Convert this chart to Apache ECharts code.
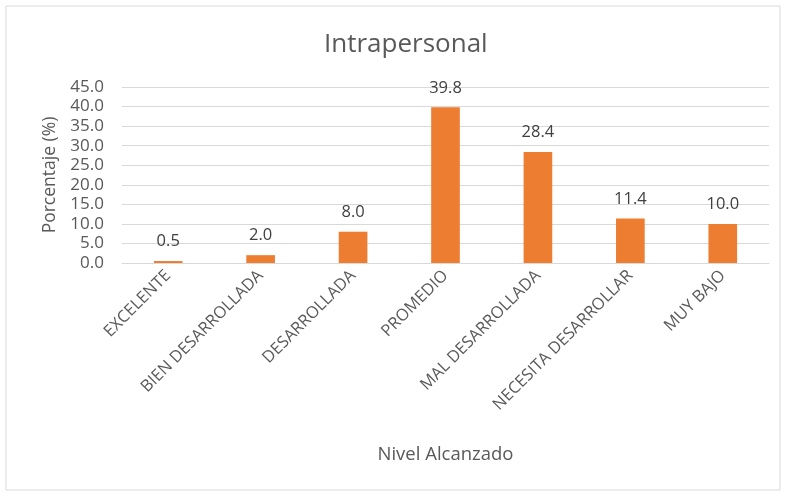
<!DOCTYPE html>
<html>
<head>
<meta charset="utf-8">
<script src="https://cdn.jsdelivr.net/npm/echarts@6/dist/echarts.min.js"></script>
<style>
html,body{margin:0;padding:0;background:#fff;}
#c{width:792px;height:493px;}
</style>
</head>
<body>
<div id="c"></div>
<script>
const categories = ['EXCELENTE','BIEN DESARROLLADA','DESARROLLADA','PROMEDIO','MAL DESARROLLADA','NECESITA DESARROLLAR','MUY BAJO'];
const values = [0.5, 2.0, 8.0, 39.8, 28.4, 11.4, 10.0];
const titleText = 'Intrapersonal';
const xName = 'Nivel Alcanzado';
const yName = 'Porcentaje (%)';

const chart = echarts.init(document.getElementById('c'));
const font = 'Open Sans';
chart.setOption({
  animation: false,
  backgroundColor: '#fff',
  graphic: [{
    type: 'rect', shape: {x: 6, y: 6, width: 774, height: 484},
    style: {fill: 'none', stroke: '#d9d9d9', lineWidth: 1}, silent: true
  }],
  title: {
    text: titleText, left: 319, top: 27,
    textStyle: {fontFamily: font, fontSize: 26, fontWeight: 'normal', color: '#595959'}
  },
  grid: {left: 122, right: 23, top: 87, bottom: 230},
  xAxis: {
    type: 'category', data: categories,
    axisLine: {lineStyle: {color: '#d9d9d9'}},
    axisTick: {show: false},
    axisLabel: {rotate: 45, interval: 0, fontFamily: font, fontSize: 16.5, color: '#595959', margin: 10},
    name: xName, nameLocation: 'middle', nameGap: 182,
    nameTextStyle: {fontFamily: font, fontSize: 18.5, color: '#595959'}
  },
  yAxis: {
    type: 'value', min: 0, max: 45, interval: 5,
    axisLine: {show: false}, axisTick: {show: false},
    splitLine: {lineStyle: {color: '#d9d9d9'}},
    axisLabel: {fontFamily: font, fontSize: 17, color: '#595959', margin: 18,
      formatter: v => v.toFixed(1)},
    name: yName, nameLocation: 'middle', nameGap: 58, nameRotate: 90,
    nameTextStyle: {fontFamily: font, fontSize: 17.5, color: '#595959'}
  },
  series: [{
    type: 'bar', data: values, barWidth: '31%',
    itemStyle: {color: '#ED7D31'},
    label: {show: true, position: 'top', distance: 11, fontFamily: font, fontSize: 16.5, color: '#404040',
      formatter: p => p.value.toFixed(1)}
  }]
});
</script>
</body>
</html>
